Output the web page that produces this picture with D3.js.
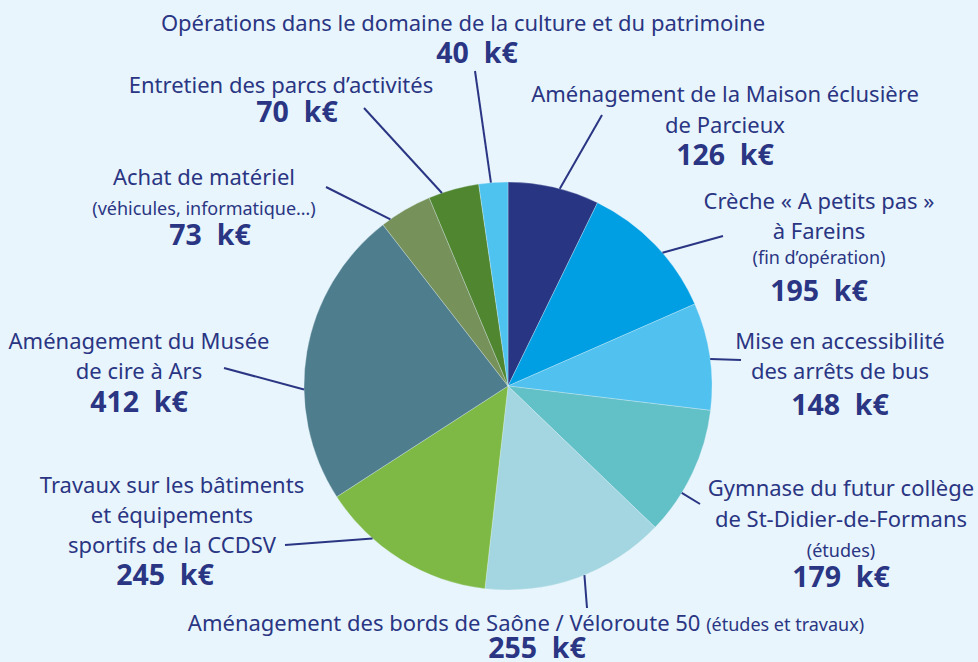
<!DOCTYPE html>
<html>
<head>
<meta charset="utf-8">
<script src="https://cdn.jsdelivr.net/npm/d3@7"></script>
<style>
  body { margin: 0; background: #e8f5fc; }
  svg { display: block; font-family: "Noto Sans", sans-serif; }
</style>
</head>
<body>
<script>
const values = [126, 195, 148, 179, 255, 245, 412, 73, 70, 40];
const labels = [
  ["Aménagement de la Maison éclusière", "de Parcieux"],
  ["Crèche « A petits pas »", "à Fareins", "(fin d’opération)"],
  ["Mise en accessibilité", "des arrêts de bus"],
  ["Gymnase du futur collège", "de St-Didier-de-Formans", "(études)"],
  ["Aménagement des bords de Saône / Véloroute 50 (études et travaux)"],
  ["Travaux sur les bâtiments", "et équipements", "sportifs de la CCDSV"],
  ["Aménagement du Musée", "de cire à Ars"],
  ["Achat de matériel", "(véhicules, informatique…)"],
  ["Entretien des parcs d’activités"],
  ["Opérations dans le domaine de la culture et du patrimoine"]
];
const unit = "k€";

const colors = ["#283583", "#009fe3", "#51c2ef", "#62c0c7", "#a3d6e0",
                "#7db944", "#4e7d8d", "#76915a", "#4f862f", "#4fc3f0"];

// label placement: centre x, baselines of each line (last = value), leader angle + end
const layout = [
  { x: 725, ys: [102, 133, 165], a: 14.7, end: [602, 115] },
  { x: 819, ys: [209, 239, 264, 301], a: 49.2, end: [723, 236] },
  { x: 840, ys: [349, 379, 415], a: 82.4, end: [741, 360] },
  { x: 841, ys: [496, 527, 557, 587], a: 121.6, end: [700, 504] },
  { x: 526, ys: [631, 658], vx: 537, a: 158, end: [587, 608] },
  { x: 172, ys: [493, 523, 553, 585], vx: 165, a: 221.6, end: [285, 545] },
  { x: 139, ys: [349, 379, 412], a: 269, end: [224, 368] },
  { x: 204, ys: [185, 215, 245], vx: 210, a: 324.8, end: [326, 187] },
  { x: 281, ys: [93, 122], vx: 297, a: 341.1, end: [364, 108] },
  { x: 463, ys: [31, 63], vx: 477, a: 355.2, end: [475, 71] }
];

const width = 978, height = 662;
const cx = 508, cy = 386, radius = 204;
const ink = "#2a3583";

const svg = d3.select("body").append("svg")
  .attr("width", width)
  .attr("height", height);

svg.append("rect").attr("width", width).attr("height", height).attr("fill", "#e8f5fc");

const pie = d3.pie().sort(null).value((d) => d);
const arc = d3.arc().innerRadius(0).outerRadius(radius);
const arcs = pie(values);

const g = svg.append("g").attr("transform", `translate(${cx},${cy})`);

g.selectAll("path")
  .data(arcs)
  .join("path")
  .attr("d", arc)
  .attr("fill", (d, i) => colors[i])
  .attr("stroke", "#e8f5fc")
  .attr("stroke-opacity", 0.5)
  .attr("stroke-width", 0.6);

// leader lines
svg.append("g")
  .selectAll("line")
  .data(arcs)
  .join("line")
  .attr("x1", (d, i) => cx + d3.pointRadial(layout[i].a * Math.PI / 180, radius)[0])
  .attr("y1", (d, i) => cy + d3.pointRadial(layout[i].a * Math.PI / 180, radius)[1])
  .attr("x2", (d, i) => layout[i].end[0])
  .attr("y2", (d, i) => layout[i].end[1])
  .attr("stroke", ink)
  .attr("stroke-width", 2);

// labels
const lbl = svg.append("g").attr("fill", ink).attr("text-anchor", "middle");

arcs.forEach((d, i) => {
  const L = layout[i];
  labels[i].forEach((line, j) => {
    const t = lbl.append("text").attr("x", L.x).attr("y", L.ys[j]);
    const m = line.match(/^(.*?)\s*(\(.*\))$/);
    if (m && m[1]) {
      t.append("tspan").attr("font-size", 22).text(m[1] + " ");
      t.append("tspan").attr("font-size", 18).text(m[2]);
    } else if (m) {
      t.attr("font-size", 18).text(m[2]);
    } else {
      t.attr("font-size", 22).text(line);
    }
  });
  lbl.append("text")
    .attr("x", L.vx || L.x)
    .attr("y", L.ys[L.ys.length - 1])
    .attr("font-size", 28.5)
    .attr("font-weight", "bold")
    .text(`${d.data}\u00a0\u00a0${unit}`);
});
</script>
</body>
</html>
